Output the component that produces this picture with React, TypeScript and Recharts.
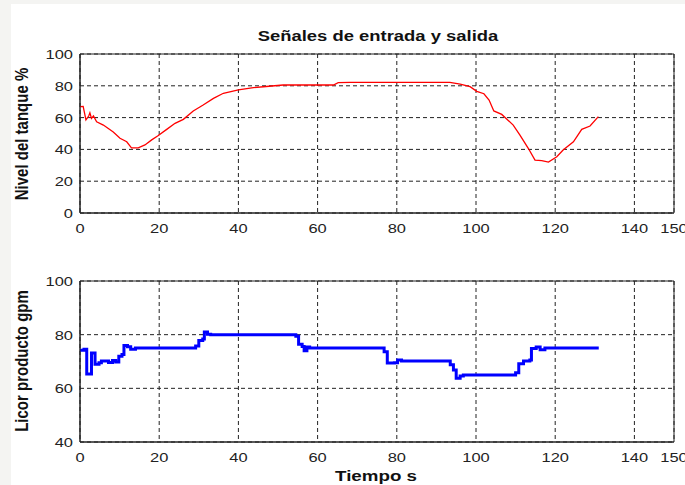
import React from 'react';
import { LineChart, Line, XAxis, YAxis, CartesianGrid, ReferenceArea } from 'recharts';

// Nivel del tanque (%), señal de salida
const levelTime = [0, 0.8, 1.5, 2.2, 2.5, 2.9, 3.4, 4.2, 5.9, 8.4, 10.1, 11.8, 13, 14.7, 16.4, 18.1, 19.6, 21.9, 24, 26.1, 28.6, 31.1, 33.7, 36.2, 40, 43.8, 46.3, 51.3, 59.8, 64, 65.2, 68.2, 80, 93.4, 96, 98.5, 100.2, 102, 103.3, 104.5, 106.5, 109.4, 111.1, 113.2, 114.9, 116.6, 118.3, 120.4, 122, 124.6, 126.7, 128.8, 130.9];
const levelValues = [66.9, 67, 58.5, 61, 63, 59.5, 61, 57.4, 55.3, 51, 47, 44.8, 41, 41, 42.8, 46, 48.4, 52.6, 56.4, 58.9, 64.2, 67.9, 72.1, 75.3, 77.4, 78.8, 79.4, 80.5, 80.5, 80.5, 82, 82.2, 82.2, 82.2, 81, 79.5, 76.5, 75, 71, 64.2, 62, 55.3, 49, 40.7, 33.3, 32.9, 32, 35.4, 39.6, 44.8, 52.6, 54.7, 60.6];

// Licor producto (gpm), señal de entrada (escalonada)
const flowTime = [0, 1.0, 1.7, 2.9, 3.8, 4.8, 5.4, 7.2, 8.2, 9.0, 9.8, 10.6, 11.1, 12.0, 12.8, 14.0, 29.2, 30.0, 31.0, 31.4, 32.2, 33.0, 54.5, 55.2, 56.1, 56.6, 57.3, 58.0, 76.8, 77.6, 79.4, 80.2, 81.2, 93.5, 94.3, 95.0, 96.0, 96.8, 110.0, 110.8, 112.0, 113.6, 114.0, 115.2, 116.2, 117.4, 131.0];
const flowValues = [74.2, 74.6, 65.3, 73.2, 69.0, 69.5, 70.2, 69.6, 70.4, 69.8, 72.0, 72.6, 76.0, 75.5, 74.6, 75.0, 75.8, 77.8, 78.4, 81.0, 80.2, 80.0, 79.4, 76.4, 75.6, 74.0, 75.4, 75.0, 73.6, 69.4, 69.5, 70.6, 70.2, 68.8, 66.8, 63.8, 64.6, 65.0, 65.8, 69.2, 70.2, 70.6, 74.8, 75.4, 74.4, 75.0, 75.0];

const xTicks = [0, 20, 40, 60, 80, 100, 120, 140, 150];
const levelTicks = [0, 20, 40, 60, 80, 100];
const flowTicks = [40, 60, 80, 100];

const levelData = levelTime.map((t, i) => ({ t, v: levelValues[i] }));
const flowData = flowTime.map((t, i) => ({ t, v: flowValues[i] }));

const FONT = '"Liberation Sans", Arial, sans-serif';
const STRETCH = 1.22;

const XTick = (props: any) => {
  const { x, y, payload } = props;
  return (
    <g transform={`translate(${x},${y + 12})`}>
      <text transform={`scale(${STRETCH},1)`} textAnchor="middle" fontSize={13.5} fontFamily={FONT} fill="#222">
        {payload.value}
      </text>
    </g>
  );
};

const YTick = (props: any) => {
  const { x, y, payload } = props;
  return (
    <g transform={`translate(${x + 1},${y + 5})`}>
      <text transform={`scale(${STRETCH},1)`} textAnchor="end" fontSize={13.5} fontFamily={FONT} fill="#222">
        {payload.value}
      </text>
    </g>
  );
};

const labelStyle: React.CSSProperties = {
  position: 'absolute',
  fontFamily: FONT,
  fontWeight: 'bold',
  fontSize: 15,
  lineHeight: '16px',
  whiteSpace: 'nowrap',
  color: '#111',
};

const Panel = ({ data, ticks, domain, color, width, step, margin, height }: any) => (
  <LineChart width={685} height={height} data={data} margin={margin}>
    <CartesianGrid stroke="#222" strokeDasharray="4 3" />
    <XAxis
      dataKey="t"
      type="number"
      domain={[0, 150]}
      ticks={xTicks}
      interval={0}
      tickLine={false}
      axisLine={{ stroke: '#222' }}
      tick={<XTick />}
    />
    <YAxis
      type="number"
      domain={domain}
      ticks={ticks}
      interval={0}
      width={60}
      tickLine={false}
      axisLine={{ stroke: '#222' }}
      tick={<YTick />}
    />
    <ReferenceArea x1={0} x2={150} y1={domain[0]} y2={domain[1]} fill="none" stroke="#222" strokeWidth={1} />
    <Line
      dataKey="v"
      type={step ? 'stepAfter' : 'linear'}
      stroke={color}
      strokeWidth={width}
      dot={false}
      isAnimationActive={false}
    />
  </LineChart>
);

export default function App() {
  return (
    <div style={{ position: 'absolute', left: 0, top: 0, width: 685, height: 485, background: '#f4f4f2', overflow: 'hidden' }}>
      <div style={{ position: 'absolute', left: 11, top: 4, width: 674, height: 481, background: '#fff' }} />
      <div style={{ position: 'absolute', left: 0, top: 0 }}>
        <Panel
          data={levelData}
          ticks={levelTicks}
          domain={[0, 100]}
          color="#ff0000"
          width={1.3}
          step={false}
          height={245}
          margin={{ top: 54, right: 11, left: 20, bottom: 2 }}
        />
      </div>
      <div style={{ position: 'absolute', left: 0, top: 245 }}>
        <Panel
          data={flowData}
          ticks={flowTicks}
          domain={[40, 100]}
          color="#0000ff"
          width={3}
          step={true}
          height={240}
          margin={{ top: 36, right: 11, left: 20, bottom: 13 }}
        />
      </div>
      <div style={{ ...labelStyle, fontSize: 14.5, left: 378, top: 28, transform: `translateX(-50%) scaleX(1.27)` }}>
        Señales de entrada y salida
      </div>
      <div style={{ ...labelStyle, left: 376, top: 468, transform: `translateX(-50%) scaleX(1.25)` }}>
        Tiempo s
      </div>
      <div style={{ ...labelStyle, left: 22, top: 134, transform: 'translate(-50%,-50%) rotate(-90deg) scaleY(1.25)' }}>
        Nivel del tanque %
      </div>
      <div style={{ ...labelStyle, left: 22, top: 361, transform: 'translate(-50%,-50%) rotate(-90deg) scaleY(1.25)' }}>
        Licor producto gpm
      </div>
    </div>
  );
}
